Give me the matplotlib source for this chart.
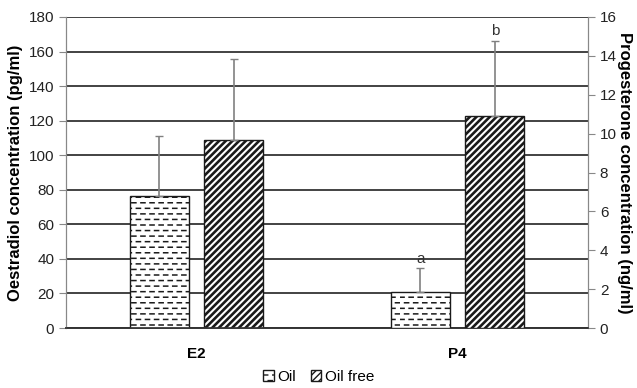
import warnings

import numpy as np
import matplotlib.pyplot as plt
import matplotlib.hatch as mhatch
from matplotlib.path import Path

warnings.filterwarnings("ignore")

plt.rcParams["font.family"] = ["Liberation Sans", "DejaVu Sans"]


# dashed horizontal hatch ("d"), like the spreadsheet pattern in the original
class DashHatch(mhatch.HatchPatternBase):
    def __init__(self, hatch, density):
        self.num_rows = int(hatch.count("d") * density)
        self.n_dash = 11
        self.num_vertices = self.num_rows * self.n_dash * 2

    def set_vertices_and_codes(self, vertices, codes):
        step = 1.0 / self.num_rows
        k = 0
        for i in range(self.num_rows):
            y = (i + 0.5) * step
            shift = 0.5 / self.n_dash if i % 2 else 0.0
            for j in range(self.n_dash):
                x0 = (j / self.n_dash + shift) % 1.0
                x1 = min(x0 + 0.45 / self.n_dash, 1.0)
                vertices[k] = (x0, y)
                vertices[k + 1] = (x1, y)
                codes[k] = Path.MOVETO
                codes[k + 1] = Path.LINETO
                k += 2


mhatch._hatch_types.append(DashHatch)

categories = ["E2", "P4"]
groups = ["Oil", "Oil free"]

# E2 in pg/ml (left axis), P4 in ng/ml (right axis)
e2_mean = [76.4, 108.8]
e2_err = [34.9, 46.9]
p4_mean = [1.87, 10.92]
p4_err = [1.20, 3.86]
p4_letters = ["a", "b"]

fig = plt.figure(figsize=(6.37, 3.88), dpi=100)
ax = fig.add_axes([66 / 637, 1 - 328 / 388, 522 / 637, 311 / 388])
ax2 = ax.twinx()

width = 0.226
offsets = [-0.143, 0.143]
hatches = ["ddd", "/////"]
hatch_lw = [1.1, 1.9]
edge = "#1a1a1a"

for i, (off, h) in enumerate(zip(offsets, hatches)):
    with plt.rc_context({"hatch.linewidth": hatch_lw[i]}):
        ax.bar(0 + off, e2_mean[i], width, color="white", edgecolor=edge, hatch=h,
               linewidth=1.0, zorder=3)
        ax2.bar(1 + off, p4_mean[i], width, color="white", edgecolor=edge, hatch=h,
                linewidth=1.0, zorder=3)
    ax.errorbar(0 + off, e2_mean[i], yerr=[[0], [e2_err[i]]], fmt="none",
                ecolor="#808080", elinewidth=1.2, capsize=3, zorder=4)
    ax2.errorbar(1 + off, p4_mean[i], yerr=[[0], [p4_err[i]]], fmt="none",
                 ecolor="#808080", elinewidth=1.2, capsize=3, zorder=4)
    ax2.text(1 + off, p4_mean[i] + p4_err[i] + 0.12, p4_letters[i],
             ha="center", va="bottom", fontsize=11, color="#333333")

ax.set_xlim(-0.5, 1.5)
ax.set_ylim(0, 180)
ax.set_yticks(np.arange(0, 181, 20))
ax2.set_ylim(0, 16)
ax2.set_yticks(np.arange(0, 17, 2))

ax.set_xticks([0, 1])
ax.set_xticklabels(categories, fontsize=11, fontweight="bold")
ax.tick_params(axis="x", length=0, pad=14)
ax.tick_params(axis="y", labelsize=11, length=5, color="#888888", labelcolor="#222222")
ax2.tick_params(axis="y", labelsize=11, length=5, color="#888888", labelcolor="#222222")

ax.yaxis.grid(True, color="#222222", linewidth=1.2)
ax.set_axisbelow(True)

for a in (ax, ax2):
    a.spines["top"].set_visible(False)
    a.spines["left"].set_color("#888888")
    a.spines["right"].set_color("#888888")
    a.spines["bottom"].set_color("#333333")
    a.spines["bottom"].set_linewidth(1.2)

ax.set_ylabel("Oestradiol concentration (pg/ml)", fontsize=12, fontweight="bold")
ax2.set_ylabel("Progesterone concentration (ng/ml)", fontsize=12, fontweight="bold",
               rotation=270, labelpad=11)

handles = []
for h, lw in zip(hatches, hatch_lw):
    with plt.rc_context({"hatch.linewidth": lw}):
        handles.append(plt.Rectangle((0, 0), 1, 1, facecolor="white",
                                     edgecolor=edge, hatch=h))
fig.legend(handles, groups, loc="lower center", ncol=2, frameon=False,
           fontsize=11, handlelength=0.7, handleheight=0.7, handletextpad=0.2,
           columnspacing=1.0, bbox_to_anchor=(0.5, -0.025))

fig.savefig("out.png", dpi=100)
